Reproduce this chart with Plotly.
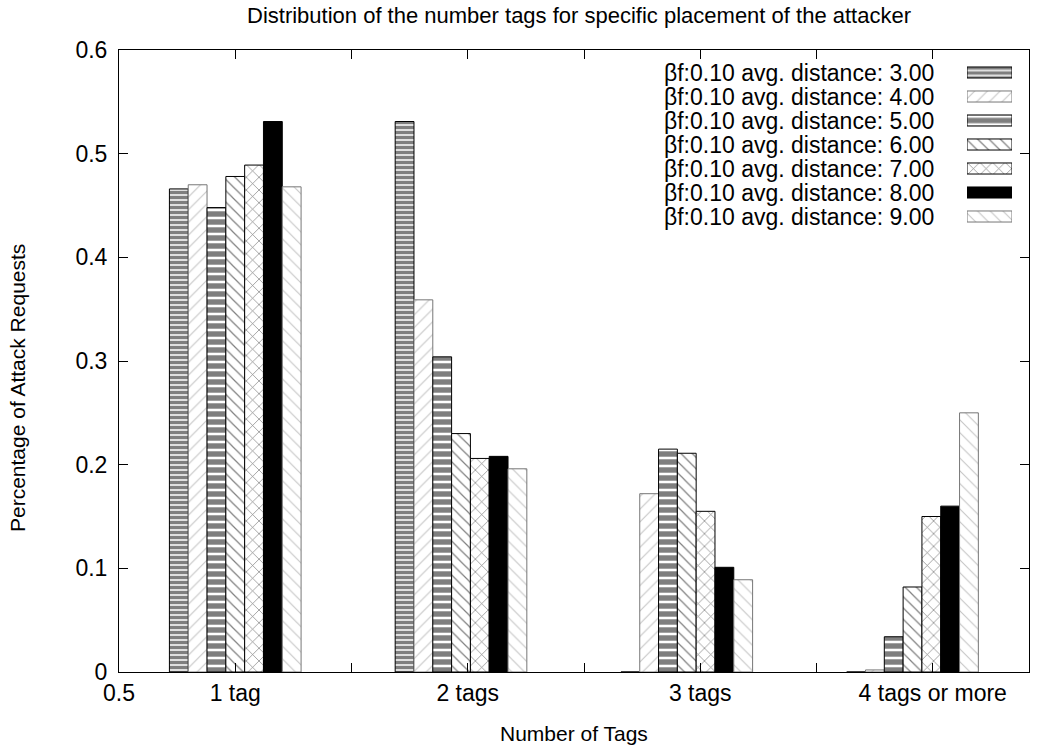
import plotly.graph_objects as go

# ---------------- data ----------------
categories = ["1 tag", "2 tags", "3 tags", "4 tags or more"]
series_names = [
    "βf:0.10 avg. distance: 3.00",
    "βf:0.10 avg. distance: 4.00",
    "βf:0.10 avg. distance: 5.00",
    "βf:0.10 avg. distance: 6.00",
    "βf:0.10 avg. distance: 7.00",
    "βf:0.10 avg. distance: 8.00",
    "βf:0.10 avg. distance: 9.00",
]
d300 = [0.466, 0.531, 0.0, 0.0]
d400 = [0.470, 0.359, 0.172, 0.002]
d500 = [0.448, 0.304, 0.215, 0.034]
d600 = [0.478, 0.230, 0.211, 0.082]
d700 = [0.489, 0.206, 0.155, 0.150]
d800 = [0.531, 0.208, 0.101, 0.160]
d900 = [0.468, 0.196, 0.089, 0.250]
series_values = [d300, d400, d500, d600, d700, d800, d900]

x_tick_vals = [0.5, 1, 1.5, 2, 2.5, 3, 3.5, 4]
x_tick_text = ["0.5", "1 tag", "", "2 tags", "", "3 tags", "", "4 tags or more"]
y_tick_vals = [0, 0.1, 0.2, 0.3, 0.4, 0.5, 0.6]

title_text = "Distribution of the number tags for specific placement of the attacker"
x_title = "Number of Tags"
y_title = "Percentage of Attack Requests"

# ---------------- styles ----------------
FONT = "Liberation Sans, Arial, Helvetica, sans-serif"
FS_TITLE = 22
FS_TICK = 23
FS_LEG = 23
FS_AX = 21


def pat(shape, size, sol, fg="black"):
    return dict(shape=shape, size=size, solidity=sol, fgcolor=fg, bgcolor="white", fillmode="overlay")


styles = [
    dict(color="white", pattern=pat("-", 5, 0.7), line=dict(color="black", width=1)),
    dict(color="white", pattern=pat("/", 9, 0.12, "#8a8a8a"), line=dict(color="#777777", width=1)),
    dict(color="white", pattern=pat("-", 8, 0.68), line=dict(color="black", width=1)),
    dict(color="white", pattern=pat("\\", 8, 0.15), line=dict(color="black", width=1)),
    dict(color="white", pattern=pat("x", 9, 0.15), line=dict(color="black", width=1)),
    dict(color="black", line=dict(color="black", width=1)),
    dict(color="white", pattern=pat("\\", 9, 0.12, "#8a8a8a"), line=dict(color="#777777", width=1)),
]

group_start = 1.0
group_step = 0.971
bar_w = 0.0809
n = len(series_names)

fig = go.Figure()
for i, (name, vals) in enumerate(zip(series_names, series_values)):
    xs = [group_start + j * group_step + (i - (n - 1) / 2) * bar_w for j in range(len(categories))]
    fig.add_trace(go.Bar(
        x=xs, y=vals, width=bar_w, name=name, marker=styles[i],
        showlegend=False, hovertext=categories,
    ))
    # legend swatch drawn as a bar on an auxiliary axis
    fig.add_trace(go.Bar(
        x=[1], y=[i + 1], orientation="h", width=0.46, marker=styles[i],
        xaxis="x2", yaxis="y2", showlegend=False, hoverinfo="skip",
    ))

# plot area in pixels
W, H = 1039, 748
L, R, T, B = 119, 10, 50, 76
pw = W - L - R
ph = H - T - B


def px_to_fx(px):
    return (px - L) / pw


def py_to_fy(py):
    return (H - B - py) / ph


annotations = []
for i, name in enumerate(series_names):
    annotations.append(dict(
        text=name, xref="paper", yref="y2", x=px_to_fx(936), y=i + 1,
        xanchor="right", yanchor="middle", showarrow=False,
        font=dict(family=FONT, size=FS_LEG, color="black"),
    ))
annotations.append(dict(text=x_title, xref="paper", yref="paper", x=px_to_fx(574), y=py_to_fy(733),
                        xanchor="center", yanchor="middle", showarrow=False,
                        font=dict(family=FONT, size=FS_AX, color="black")))
annotations.append(dict(text=y_title, xref="paper", yref="paper", x=px_to_fx(17), y=py_to_fy(388),
                        xanchor="center", yanchor="middle", showarrow=False, textangle=-90,
                        font=dict(family=FONT, size=FS_AX, color="black")))

fig.update_layout(
    width=W, height=H,
    margin=dict(l=L, r=R, t=T, b=B),
    paper_bgcolor="white", plot_bgcolor="white",
    barmode="overlay",
    font=dict(family=FONT, size=FS_TICK, color="black"),
    title=dict(text=title_text, x=579 / W, xref="container", y=1 - 15 / H, yref="container",
               xanchor="center", yanchor="middle", font=dict(family=FONT, size=FS_TITLE, color="black")),
    xaxis=dict(range=[0.5, 0.5 + pw / 232.5], tickvals=x_tick_vals, ticktext=x_tick_text,
               ticks="inside", ticklen=9, tickcolor="black", tickwidth=1,
               showline=True, linecolor="black", linewidth=1, mirror="ticks",
               showgrid=False, zeroline=False, layer="above traces",
               tickfont=dict(family=FONT, size=FS_TICK, color="black")),
    yaxis=dict(range=[0, 0.6], tickvals=y_tick_vals, ticks="inside", ticklen=9,
               tickcolor="black", tickwidth=1, showline=True, linecolor="black", linewidth=1,
               mirror="ticks", showgrid=False, zeroline=False, ticklabelstandoff=6,
               tickfont=dict(family=FONT, size=FS_TICK, color="black")),
    xaxis2=dict(domain=[px_to_fx(967), px_to_fx(1012)], range=[0, 1], anchor="y2",
                visible=False, fixedrange=True),
    yaxis2=dict(domain=[py_to_fy(228.5), py_to_fy(60.5)], range=[7.5, 0.5], anchor="x2",
                visible=False, fixedrange=True),
    annotations=annotations,
)

fig.write_html("out.html")
